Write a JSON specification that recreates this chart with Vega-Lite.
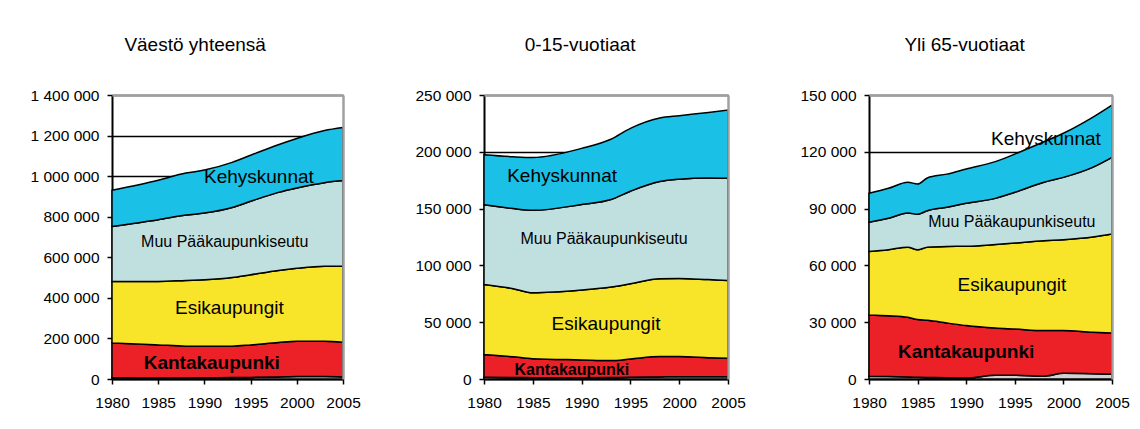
{
  "$schema": "https://vega.github.io/schema/vega-lite/v6.json",
  "background": "white",
  "padding": {"left": 30, "top": 36, "right": 5, "bottom": 0},
  "spacing": 53,
  "datasets": {
    "alueet": [
      {"alue": "tuntematon", "n": 0},
      {"alue": "kanta", "n": 1},
      {"alue": "esi", "n": 2},
      {"alue": "muu", "n": 3},
      {"alue": "kehys", "n": 4}
    ],
    "vaesto": [
      {"p": "kaikki", "v": 1980, "tuntematon": 8000, "kanta": 170000, "esi": 303000, "muu": 271000, "kehys": 178000},
      {"p": "kaikki", "v": 1985, "tuntematon": 5000, "kanta": 163000, "esi": 313000, "muu": 304000, "kehys": 195000},
      {"p": "kaikki", "v": 1988, "tuntematon": 5000, "kanta": 157000, "esi": 324000, "muu": 322000, "kehys": 207000},
      {"p": "kaikki", "v": 1990, "tuntematon": 6000, "kanta": 155000, "esi": 328000, "muu": 329000, "kehys": 212000},
      {"p": "kaikki", "v": 1993, "tuntematon": 7000, "kanta": 155000, "esi": 338000, "muu": 345000, "kehys": 223000},
      {"p": "kaikki", "v": 1995, "tuntematon": 8000, "kanta": 160000, "esi": 346000, "muu": 362000, "kehys": 227000},
      {"p": "kaikki", "v": 1998, "tuntematon": 10000, "kanta": 170000, "esi": 355000, "muu": 385000, "kehys": 235000},
      {"p": "kaikki", "v": 2000, "tuntematon": 12000, "kanta": 174000, "esi": 360000, "muu": 396000, "kehys": 244000},
      {"p": "kaikki", "v": 2003, "tuntematon": 12000, "kanta": 174000, "esi": 370000, "muu": 412000, "kehys": 257000},
      {"p": "kaikki", "v": 2005, "tuntematon": 10000, "kanta": 171000, "esi": 375000, "muu": 422000, "kehys": 262000},

      {"p": "lapset", "v": 1980, "tuntematon": 1500, "kanta": 20000, "esi": 61700, "muu": 70100, "kehys": 44100},
      {"p": "lapset", "v": 1983, "tuntematon": 1300, "kanta": 18200, "esi": 60000, "muu": 70500, "kehys": 45600},
      {"p": "lapset", "v": 1985, "tuntematon": 1200, "kanta": 16700, "esi": 58000, "muu": 72600, "kehys": 46500},
      {"p": "lapset", "v": 1990, "tuntematon": 1200, "kanta": 15600, "esi": 61500, "muu": 75300, "kehys": 49400},
      {"p": "lapset", "v": 1993, "tuntematon": 1300, "kanta": 14900, "esi": 64700, "muu": 77100, "kehys": 53000},
      {"p": "lapset", "v": 1995, "tuntematon": 1500, "kanta": 16100, "esi": 66200, "muu": 81500, "kehys": 55300},
      {"p": "lapset", "v": 1998, "tuntematon": 1800, "kanta": 17900, "esi": 68500, "muu": 85600, "kehys": 55900},
      {"p": "lapset", "v": 2000, "tuntematon": 2000, "kanta": 17700, "esi": 68800, "muu": 87400, "kehys": 55900},
      {"p": "lapset", "v": 2003, "tuntematon": 2000, "kanta": 16800, "esi": 68700, "muu": 89500, "kehys": 57700},
      {"p": "lapset", "v": 2005, "tuntematon": 2000, "kanta": 16200, "esi": 68600, "muu": 90000, "kehys": 60000},

      {"p": "vanhat", "v": 1980, "tuntematon": 1500, "kanta": 32300, "esi": 33500, "muu": 15500, "kehys": 15300},
      {"p": "vanhat", "v": 1982, "tuntematon": 1300, "kanta": 32100, "esi": 34900, "muu": 16600, "kehys": 15800},
      {"p": "vanhat", "v": 1984, "tuntematon": 1000, "kanta": 31600, "esi": 37000, "muu": 18100, "kehys": 16200},
      {"p": "vanhat", "v": 1985, "tuntematon": 900, "kanta": 30500, "esi": 36900, "muu": 18700, "kehys": 16000},
      {"p": "vanhat", "v": 1986, "tuntematon": 800, "kanta": 30200, "esi": 38600, "muu": 19300, "kehys": 17300},
      {"p": "vanhat", "v": 1988, "tuntematon": 600, "kanta": 29000, "esi": 40400, "muu": 20700, "kehys": 17500},
      {"p": "vanhat", "v": 1990, "tuntematon": 500, "kanta": 27700, "esi": 41900, "muu": 22700, "kehys": 18100},
      {"p": "vanhat", "v": 1993, "tuntematon": 2000, "kanta": 24900, "esi": 44100, "muu": 24400, "kehys": 19400},
      {"p": "vanhat", "v": 1995, "tuntematon": 2000, "kanta": 24400, "esi": 45400, "muu": 26800, "kehys": 20200},
      {"p": "vanhat", "v": 1998, "tuntematon": 1500, "kanta": 24100, "esi": 47400, "muu": 30900, "kehys": 21400},
      {"p": "vanhat", "v": 2000, "tuntematon": 3000, "kanta": 22600, "esi": 48000, "muu": 32900, "kehys": 23300},
      {"p": "vanhat", "v": 2003, "tuntematon": 2800, "kanta": 21900, "esi": 50300, "muu": 36800, "kehys": 26400},
      {"p": "vanhat", "v": 2005, "tuntematon": 2500, "kanta": 21800, "esi": 52300, "muu": 40500, "kehys": 27600}
    ],
    "nimet": [
      {"p": "kaikki", "t": "Kehyskunnat", "x": 1995.9, "y": 996000},
      {"p": "kaikki", "t": "Muu Pääkaupunkiseutu", "x": 1992.2, "y": 677000},
      {"p": "kaikki", "t": "Esikaupungit", "x": 1992.7, "y": 351000},
      {"p": "kaikki", "t": "Kantakaupunki", "x": 1990.8, "y": 79000},
      {"p": "lapset", "t": "Kehyskunnat", "x": 1988.0, "y": 178300},
      {"p": "lapset", "t": "Muu Pääkaupunkiseutu", "x": 1992.3, "y": 122900},
      {"p": "lapset", "t": "Esikaupungit", "x": 1992.5, "y": 48800},
      {"p": "lapset", "t": "Kantakaupunki", "x": 1989.0, "y": 8200},
      {"p": "vanhat", "t": "Kehyskunnat", "x": 1998.2, "y": 126800},
      {"p": "vanhat", "t": "Muu Pääkaupunkiseutu", "x": 1994.7, "y": 83100},
      {"p": "vanhat", "t": "Esikaupungit", "x": 1994.7, "y": 49700},
      {"p": "vanhat", "t": "Kantakaupunki", "x": 1990.0, "y": 14500}
    ]
  },
  "config": {
    "font": "Liberation Sans",
    "view": {"stroke": null},
    "axis": {
      "labelFont": "Liberation Sans",
      "labelFontSize": 15.5,
      "labelColor": "black",
      "labelOverlap": false,
      "labelFlush": false,
      "domainColor": "black",
      "domainWidth": 2,
      "tickColor": "black",
      "tickWidth": 1.5,
      "tickSize": 5,
      "gridColor": "black",
      "gridWidth": 1.3,
      "gridOpacity": 1
    },
    "axisX": {"labelPadding": 11},
    "axisY": {"labelPadding": 8},
    "title": {"font": "Liberation Sans", "fontSize": 19, "fontWeight": "normal", "color": "black", "anchor": "middle", "frame": "bounds", "offset": 33},
    "text": {"font": "Liberation Sans", "color": "black", "align": "center", "baseline": "middle"},
    "locale": {"number": {"decimal": ",", "thousands": " ", "grouping": [3], "currency": ["", " €"]}}
  },
  "hconcat": [
    {
      "width": 231,
      "height": 284,
      "title": {"text": "Väestö yhteensä"},
      "resolve": {"axis": {"x": "independent", "y": "independent"}},
      "layer": [
        {
          "data": {"name": "vaesto"},
          "transform": [
            {"filter": "datum.p === 'kaikki'"},
            {"fold": ["tuntematon", "kanta", "esi", "muu", "kehys"], "as": ["alue", "arvo"]},
            {"lookup": "alue", "from": {"data": {"name": "alueet"}, "key": "alue", "fields": ["n"]}}
          ],
          "mark": {"type": "area", "interpolate": "monotone", "stroke": "black", "strokeWidth": 1.5},
          "encoding": {
            "x": {"field": "v", "type": "quantitative", "scale": {"domain": [1980, 2005], "nice": false, "zero": false},
                  "axis": {"values": [1980, 1985, 1990, 1995, 2000, 2005], "format": "d", "grid": false, "title": null}},
            "y": {"field": "arvo", "type": "quantitative", "stack": "zero", "scale": {"domain": [0, 1400000], "nice": false},
                  "axis": {"values": [0, 200000, 400000, 600000, 800000, 1000000, 1200000, 1400000], "format": ",d", "grid": true, "title": null}},
            "color": {"field": "alue", "type": "nominal", "legend": null,
                      "scale": {"domain": ["tuntematon", "kanta", "esi", "muu", "kehys"], "range": ["#D2D2D2", "#EC2027", "#F8E52A", "#C0E0E0", "#1AC0E6"]}},
            "order": {"field": "n", "type": "quantitative"}
          }
        },
        {
          "data": {"name": "nimet"},
          "transform": [{"filter": "datum.p === 'kaikki' && (datum.t === 'Kehyskunnat' || datum.t === 'Esikaupungit')"}],
          "mark": {"type": "text", "fontSize": 19},
          "encoding": {
            "x": {"field": "x", "type": "quantitative", "scale": {"domain": [1980, 2005], "nice": false, "zero": false},
                  "axis": {"orient": "top", "labels": false, "ticks": false, "grid": false, "title": null, "domainColor": "#A0A0A0", "domainWidth": 2.5, "zindex": 1}},
            "y": {"field": "y", "type": "quantitative", "scale": {"domain": [0, 1400000], "nice": false},
                  "axis": {"orient": "right", "labels": false, "ticks": false, "grid": false, "title": null, "domainColor": "#A0A0A0", "domainWidth": 2.5, "zindex": 1}},
            "text": {"field": "t"}
          }
        },
        {
          "data": {"name": "nimet"},
          "transform": [{"filter": "datum.p === 'kaikki' && datum.t === 'Muu Pääkaupunkiseutu'"}],
          "mark": {"type": "text", "fontSize": 16},
          "encoding": {
            "x": {"field": "x", "type": "quantitative", "scale": {"domain": [1980, 2005], "nice": false, "zero": false}, "axis": null},
            "y": {"field": "y", "type": "quantitative", "scale": {"domain": [0, 1400000], "nice": false}, "axis": null},
            "text": {"field": "t"}
          }
        },
        {
          "data": {"name": "nimet"},
          "transform": [{"filter": "datum.p === 'kaikki' && datum.t === 'Kantakaupunki'"}],
          "mark": {"type": "text", "fontSize": 19, "fontWeight": "bold"},
          "encoding": {
            "x": {"field": "x", "type": "quantitative", "scale": {"domain": [1980, 2005], "nice": false, "zero": false}, "axis": null},
            "y": {"field": "y", "type": "quantitative", "scale": {"domain": [0, 1400000], "nice": false}, "axis": null},
            "text": {"field": "t"}
          }
        }
      ]
    },
    {
      "width": 244,
      "height": 284,
      "title": {"text": "0-15-vuotiaat"},
      "resolve": {"axis": {"x": "independent", "y": "independent"}},
      "layer": [
        {
          "data": {"name": "vaesto"},
          "transform": [
            {"filter": "datum.p === 'lapset'"},
            {"fold": ["tuntematon", "kanta", "esi", "muu", "kehys"], "as": ["alue", "arvo"]},
            {"lookup": "alue", "from": {"data": {"name": "alueet"}, "key": "alue", "fields": ["n"]}}
          ],
          "mark": {"type": "area", "interpolate": "monotone", "stroke": "black", "strokeWidth": 1.5},
          "encoding": {
            "x": {"field": "v", "type": "quantitative", "scale": {"domain": [1980, 2005], "nice": false, "zero": false},
                  "axis": {"values": [1980, 1985, 1990, 1995, 2000, 2005], "format": "d", "grid": false, "title": null}},
            "y": {"field": "arvo", "type": "quantitative", "stack": "zero", "scale": {"domain": [0, 250000], "nice": false},
                  "axis": {"values": [0, 50000, 100000, 150000, 200000, 250000], "format": ",d", "grid": true, "title": null}},
            "color": {"field": "alue", "type": "nominal", "legend": null,
                      "scale": {"domain": ["tuntematon", "kanta", "esi", "muu", "kehys"], "range": ["#D2D2D2", "#EC2027", "#F8E52A", "#C0E0E0", "#1AC0E6"]}},
            "order": {"field": "n", "type": "quantitative"}
          }
        },
        {
          "data": {"name": "nimet"},
          "transform": [{"filter": "datum.p === 'lapset' && (datum.t === 'Kehyskunnat' || datum.t === 'Esikaupungit')"}],
          "mark": {"type": "text", "fontSize": 19},
          "encoding": {
            "x": {"field": "x", "type": "quantitative", "scale": {"domain": [1980, 2005], "nice": false, "zero": false},
                  "axis": {"orient": "top", "labels": false, "ticks": false, "grid": false, "title": null, "domainColor": "#A0A0A0", "domainWidth": 2.5, "zindex": 1}},
            "y": {"field": "y", "type": "quantitative", "scale": {"domain": [0, 250000], "nice": false},
                  "axis": {"orient": "right", "labels": false, "ticks": false, "grid": false, "title": null, "domainColor": "#A0A0A0", "domainWidth": 2.5, "zindex": 1}},
            "text": {"field": "t"}
          }
        },
        {
          "data": {"name": "nimet"},
          "transform": [{"filter": "datum.p === 'lapset' && datum.t === 'Muu Pääkaupunkiseutu'"}],
          "mark": {"type": "text", "fontSize": 16},
          "encoding": {
            "x": {"field": "x", "type": "quantitative", "scale": {"domain": [1980, 2005], "nice": false, "zero": false}, "axis": null},
            "y": {"field": "y", "type": "quantitative", "scale": {"domain": [0, 250000], "nice": false}, "axis": null},
            "text": {"field": "t"}
          }
        },
        {
          "data": {"name": "nimet"},
          "transform": [{"filter": "datum.p === 'lapset' && datum.t === 'Kantakaupunki'"}],
          "mark": {"type": "text", "fontSize": 16, "fontWeight": "bold"},
          "encoding": {
            "x": {"field": "x", "type": "quantitative", "scale": {"domain": [1980, 2005], "nice": false, "zero": false}, "axis": null},
            "y": {"field": "y", "type": "quantitative", "scale": {"domain": [0, 250000], "nice": false}, "axis": null},
            "text": {"field": "t"}
          }
        }
      ]
    },
    {
      "width": 243,
      "height": 284,
      "title": {"text": "Yli 65-vuotiaat"},
      "resolve": {"axis": {"x": "independent", "y": "independent"}},
      "layer": [
        {
          "data": {"name": "vaesto"},
          "transform": [
            {"filter": "datum.p === 'vanhat'"},
            {"fold": ["tuntematon", "kanta", "esi", "muu", "kehys"], "as": ["alue", "arvo"]},
            {"lookup": "alue", "from": {"data": {"name": "alueet"}, "key": "alue", "fields": ["n"]}}
          ],
          "mark": {"type": "area", "interpolate": "monotone", "stroke": "black", "strokeWidth": 1.5},
          "encoding": {
            "x": {"field": "v", "type": "quantitative", "scale": {"domain": [1980, 2005], "nice": false, "zero": false},
                  "axis": {"values": [1980, 1985, 1990, 1995, 2000, 2005], "format": "d", "grid": false, "title": null}},
            "y": {"field": "arvo", "type": "quantitative", "stack": "zero", "scale": {"domain": [0, 150000], "nice": false},
                  "axis": {"values": [0, 30000, 60000, 90000, 120000, 150000], "format": ",d", "grid": true, "title": null}},
            "color": {"field": "alue", "type": "nominal", "legend": null,
                      "scale": {"domain": ["tuntematon", "kanta", "esi", "muu", "kehys"], "range": ["#D2D2D2", "#EC2027", "#F8E52A", "#C0E0E0", "#1AC0E6"]}},
            "order": {"field": "n", "type": "quantitative"}
          }
        },
        {
          "data": {"name": "nimet"},
          "transform": [{"filter": "datum.p === 'vanhat' && (datum.t === 'Kehyskunnat' || datum.t === 'Esikaupungit')"}],
          "mark": {"type": "text", "fontSize": 19},
          "encoding": {
            "x": {"field": "x", "type": "quantitative", "scale": {"domain": [1980, 2005], "nice": false, "zero": false},
                  "axis": {"orient": "top", "labels": false, "ticks": false, "grid": false, "title": null, "domainColor": "#A0A0A0", "domainWidth": 2.5, "zindex": 1}},
            "y": {"field": "y", "type": "quantitative", "scale": {"domain": [0, 150000], "nice": false},
                  "axis": {"orient": "right", "labels": false, "ticks": false, "grid": false, "title": null, "domainColor": "#A0A0A0", "domainWidth": 2.5, "zindex": 1}},
            "text": {"field": "t"}
          }
        },
        {
          "data": {"name": "nimet"},
          "transform": [{"filter": "datum.p === 'vanhat' && datum.t === 'Muu Pääkaupunkiseutu'"}],
          "mark": {"type": "text", "fontSize": 16},
          "encoding": {
            "x": {"field": "x", "type": "quantitative", "scale": {"domain": [1980, 2005], "nice": false, "zero": false}, "axis": null},
            "y": {"field": "y", "type": "quantitative", "scale": {"domain": [0, 150000], "nice": false}, "axis": null},
            "text": {"field": "t"}
          }
        },
        {
          "data": {"name": "nimet"},
          "transform": [{"filter": "datum.p === 'vanhat' && datum.t === 'Kantakaupunki'"}],
          "mark": {"type": "text", "fontSize": 19, "fontWeight": "bold"},
          "encoding": {
            "x": {"field": "x", "type": "quantitative", "scale": {"domain": [1980, 2005], "nice": false, "zero": false}, "axis": null},
            "y": {"field": "y", "type": "quantitative", "scale": {"domain": [0, 150000], "nice": false}, "axis": null},
            "text": {"field": "t"}
          }
        }
      ]
    }
  ]
}
